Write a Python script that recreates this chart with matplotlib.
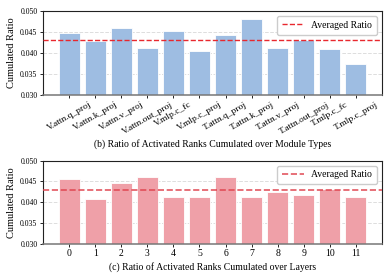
import matplotlib
matplotlib.use("Agg")
import matplotlib.pyplot as plt
import numpy as np

module_types = ["V.attn.q_proj", "V.attn.k_proj", "V.attn.v_proj", "V.attn.out_proj",
                "V.mlp.c_fc", "V.mlp.c_proj", "T.attn.q_proj", "T.attn.k_proj",
                "T.attn.v_proj", "T.attn.out_proj", "T.mlp.c_fc", "T.mlp.c_proj"]
module_ratio = [0.0448, 0.0429, 0.0460, 0.0413, 0.0452, 0.0405,
                0.0444, 0.0482, 0.0413, 0.0430, 0.0409, 0.0374]

layers = [str(i) for i in range(12)]
layer_ratio = [0.0456, 0.0408, 0.0447, 0.0461, 0.04125, 0.04125,
               0.0461, 0.04125, 0.0425, 0.0417, 0.0431, 0.04125]

avg_ratio = 0.0430

plt.rcParams['font.family'] = ['Liberation Serif', 'DejaVu Serif']

fig = plt.figure(figsize=(3.91, 2.79), dpi=100)
ax1 = fig.add_axes([0.110, 0.6595, 0.867, 0.301])
ax2 = fig.add_axes([0.110, 0.1265, 0.867, 0.2975])

blue = "#9ebde2"
pink = "#efa0a8"
red = "#e8282e"

def style(ax):
    ax.set_ylim(0.030, 0.050)
    ax.set_xlim(-1, 12)
    ax.set_yticks([0.030, 0.035, 0.040, 0.045, 0.050])
    ax.set_yticklabels(["0.030", "0.035", "0.040", "0.045", "0.050"], fontsize=5.6)
    ax.yaxis.grid(True, linestyle='--', color='#dddddd', linewidth=0.7)
    ax.set_axisbelow(True)
    for s in ax.spines.values():
        s.set_color('#222222')
        s.set_linewidth(0.8)
    ax.spines['bottom'].set_color('#777777')
    ax.spines['bottom'].set_linewidth(1.1)
    ax.tick_params(length=2.5, width=0.6, pad=1.5)
    ax.set_ylabel("Cumulated Ratio", fontsize=7.5, labelpad=3)

x = np.arange(len(module_types))
ax1.bar(x, module_ratio, width=0.8, color=blue, edgecolor='white', linewidth=0.6, zorder=2)
ax1.axhline(avg_ratio, color=red, linestyle='--', linewidth=1.0, label='Averaged Ratio', zorder=3)
style(ax1)
ax1.set_xticks(x)
ax1.set_xticklabels(module_types, rotation=30, ha='center', fontsize=6.8)
ax1.set_xlabel("(b) Ratio of Activated Ranks Cumulated over Module Types", fontsize=7, labelpad=2)
ax1.legend(loc='upper right', fontsize=7, frameon=True, framealpha=1, edgecolor='#cccccc',
           handlelength=2.2, borderpad=0.5, fancybox=True)

x2 = np.arange(len(layers))
ax2.bar(x2, layer_ratio, width=0.8, color=pink, edgecolor='white', linewidth=0.6, zorder=2)
ax2.axhline(avg_ratio, color="#e04550", linestyle='--', linewidth=1.2, label='Averaged Ratio', zorder=3, alpha=0.9)
style(ax2)
ax2.set_xticks(x2)
ax2.set_xticklabels(layers, fontsize=7)
ax2.set_xlabel("(c) Ratio of Activated Ranks Cumulated over Layers", fontsize=7, labelpad=3)
ax2.legend(loc='upper right', fontsize=7, frameon=True, framealpha=1, edgecolor='#cccccc',
           handlelength=2.2, borderpad=0.5, fancybox=True)

fig.savefig("out.png", dpi=100)
